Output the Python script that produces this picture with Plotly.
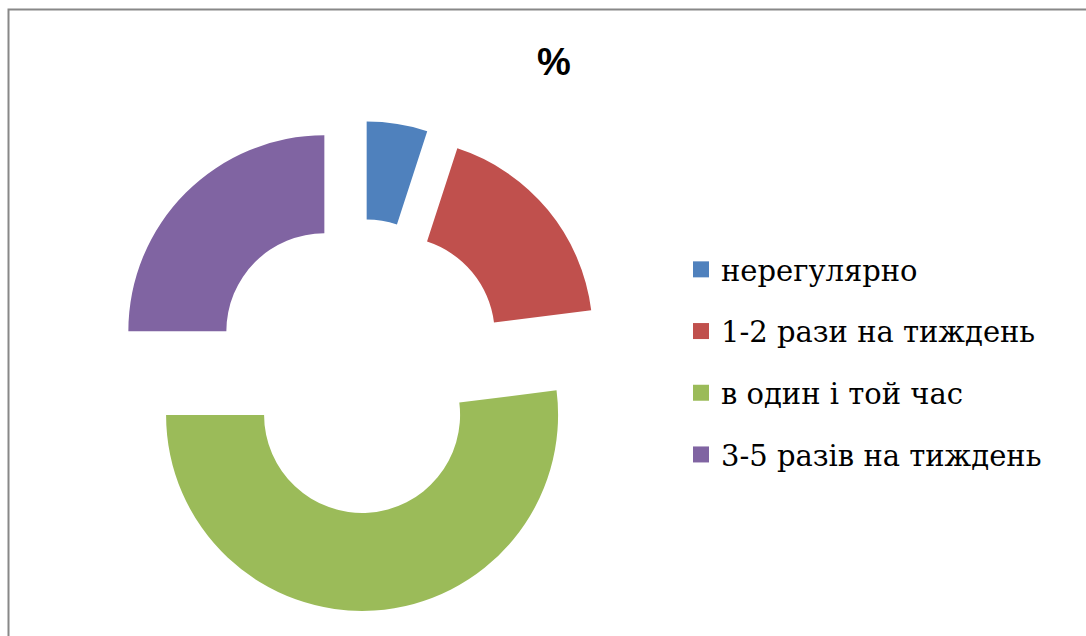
import plotly.graph_objects as go

categories = ["нерегулярно", "1-2 рази на тиждень", "в один і той час", "3-5 разів на тиждень"]
values = [5, 18, 52, 25]
colors = ["#4F81BD", "#C0504D", "#9BBB59", "#8064A2"]
title_text = "%"

W, H = 1086, 636

fig = go.Figure()
fig.add_trace(go.Pie(
    labels=categories,
    values=values,
    sort=False,
    direction="clockwise",
    rotation=0,
    hole=0.5,
    pull=[0.25] * len(values),
    marker=dict(colors=colors, line=dict(width=0)),
    textinfo="none",
    hoverinfo="label+value",
    showlegend=False,
    domain=dict(x=[114 / W, 604 / W], y=[1 - 611 / H, 1 - 121 / H]),
))

# legend entries (one per category, matching slice colours)
for i, (cat, col) in enumerate(zip(categories, colors)):
    fig.add_trace(go.Scatter(
        x=[None], y=[None], mode="markers", name=cat,
        marker=dict(symbol="square", size=16, color=col),
        legendgroup=f"g{i}", showlegend=True,
    ))

fig.update_layout(
    width=W, height=H,
    margin=dict(l=0, r=0, t=0, b=0),
    paper_bgcolor="white",
    plot_bgcolor="white",
    xaxis=dict(visible=False),
    yaxis=dict(visible=False),
    title=dict(
        text=title_text,
        x=554 / W, xanchor="center",
        y=1 - 62 / H, yanchor="middle",
        xref="paper", yref="paper",
        font=dict(family="Liberation Sans", size=38, color="black", weight="bold"),
    ),
    legend=dict(
        x=681 / W, xanchor="left",
        y=1 - 244 / H, yanchor="top",
        font=dict(family="DejaVu Serif", size=29, color="black"),
        tracegroupgap=21,
        bgcolor="rgba(0,0,0,0)",
        itemclick=False,
    ),
    shapes=[dict(
        type="rect", xref="paper", yref="paper",
        x0=8.5 / W, x1=1.01, y0=-0.01, y1=1 - 9.5 / H,
        line=dict(color="#888888", width=2),
        fillcolor="rgba(0,0,0,0)",
    )],
)

fig.write_html("out.html")
